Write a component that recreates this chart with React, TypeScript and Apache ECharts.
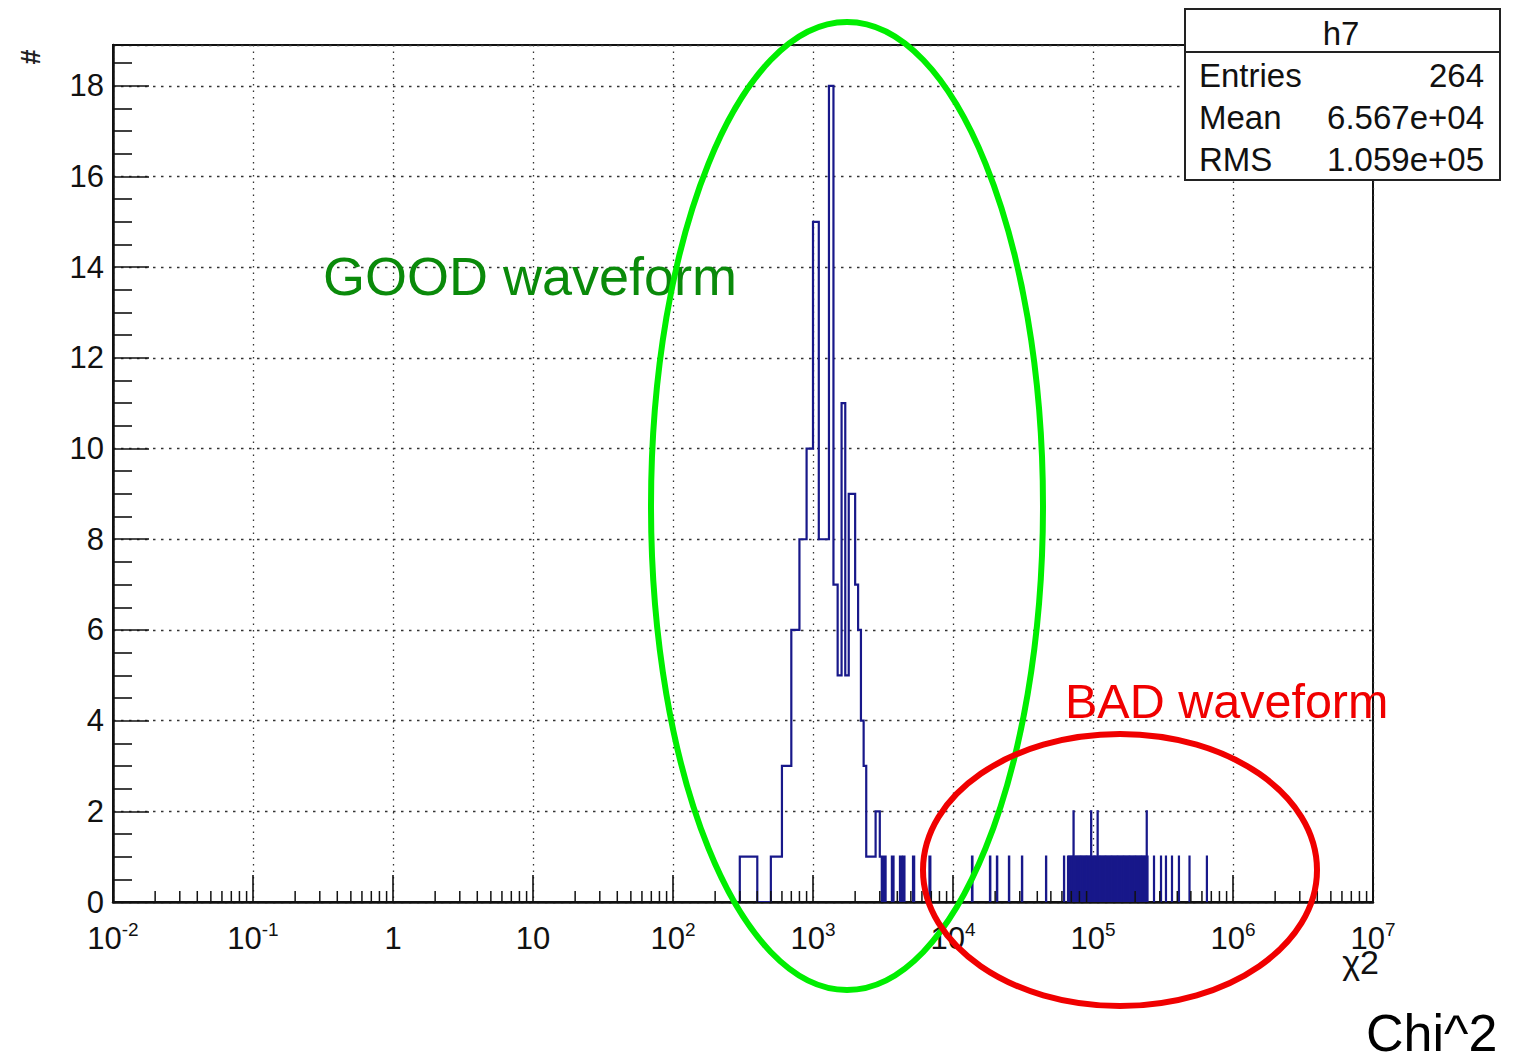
import React, { useEffect, useRef } from "react";
import * as echarts from "echarts";

// ---- axis structure ----
const X_DECADES = [-2, -1, 0, 1, 2, 3, 4, 5, 6];
const MINOR_MULT = [2, 3, 4, 5, 6, 7, 8, 9];
const Y_MAX = 18.9;

// ---- histogram h7 (bin width 100) ----
const BIN_WIDTH = 100;
const GOOD_EDGES = [
  300, 400, 500, 600, 700, 800, 900, 1000, 1100, 1200, 1300, 1400, 1500, 1600, 1700,
  1800, 1900, 2000, 2100, 2200, 2300, 2400, 2500, 2600, 2700, 2800, 2900, 3000, 3100, 3200,
];
const GOOD_COUNTS = [
  1, 0, 1, 3, 6, 8, 10, 15, 8, 8, 18, 7, 5, 11, 5,
  9, 9, 7, 6, 4, 3, 1, 1, 1, 1, 2, 2, 1, 0, 1,
];
const SPIKE_X = [
  3660, 4180, 4400, 5180, 6790, 13670, 18370, 20600, 25100, 31100, 46200, 62100,
  66300, 67700, 69000, 70400, 71800, 72600, 74500, 76000, 77500, 79000, 80600, 82200,
  83800, 85500, 87200, 89000, 90700, 92500, 94400, 96200, 97000, 99500, 101500, 103500,
  105500, 107900, 110000, 112200, 114500, 116800, 119100, 121500, 123900, 126400, 128900,
  131500, 134100, 136800, 139500, 142300, 145100, 148000, 151000, 154000, 157100, 160200,
  163400, 166700, 170000, 173400, 176900, 180400, 184000, 187700, 191500, 195300, 199200,
  203200, 207200, 211400, 215600, 219900, 224300, 228800, 233400, 238000, 242000, 245000,
  272700, 306000, 332000, 366600, 411000, 489000, 651000, 731000,
];
const SPIKE_N = [
  1, 1, 1, 1, 1, 1, 1, 1, 1, 1, 1, 1,
  1, 1, 1, 1, 1, 2, 1, 1, 1, 1, 1, 1,
  1, 1, 1, 1, 1, 1, 1, 1, 2, 1, 1, 1,
  1, 2, 1, 1, 1, 1, 1, 1, 1, 1, 1,
  1, 1, 1, 1, 1, 1, 1, 1, 1, 1, 1,
  1, 1, 1, 1, 1, 1, 1, 1, 1, 1, 1,
  1, 1, 1, 1, 1, 1, 1, 1, 1, 2,
  1, 1, 1, 1, 1, 1, 1, 1,
];

// ---- stats box ----
const STATS_TITLE = "h7";
const STATS_LABELS = ["Entries", "Mean", "RMS"];
const STATS_VALUES = ["264", "6.567e+04", "1.059e+05"];

const FONT = '"Liberation Sans", Arial, Helvetica, sans-serif';

function buildGroups(): number[][][] {
  const groups: number[][][] = [];
  const g: number[][] = [[GOOD_EDGES[0], 0]];
  GOOD_EDGES.forEach((e, i) => {
    g.push([e, GOOD_COUNTS[i]]);
    g.push([e + BIN_WIDTH, GOOD_COUNTS[i]]);
  });
  g.push([GOOD_EDGES[GOOD_EDGES.length - 1] + BIN_WIDTH, 0]);
  groups.push(g);
  SPIKE_X.forEach((x, i) => {
    groups.push([
      [x, 0],
      [x, SPIKE_N[i]],
      [x + BIN_WIDTH, SPIKE_N[i]],
      [x + BIN_WIDTH, 0],
    ]);
  });
  return groups;
}

export default function App() {
  const ref = useRef<HTMLDivElement>(null);
  useEffect(() => {
    if (!ref.current) return;
    const chart = echarts.init(ref.current, undefined, { renderer: "svg" });
    const groups = buildGroups();
    const minorTicks: number[][] = [];
    X_DECADES.forEach((d) => {
      MINOR_MULT.forEach((m) => minorTicks.push([m * Math.pow(10, d), 0]));
    });

    const BOX_Z = 60;
    const option: any = {
      animation: false,
      backgroundColor: "#ffffff",
      grid: {
        left: 113,
        right: 149,
        top: 45,
        bottom: 159,
        show: true,
        borderColor: "#111",
        borderWidth: 2,
        backgroundColor: "transparent",
      },
      xAxis: {
        type: "log",
        logBase: 10,
        min: 0.01,
        max: 1e7,
        splitNumber: 10,
        axisLine: { show: true, lineStyle: { color: "#111", width: 2.5 } },
        axisTick: { show: true, inside: true, length: 27, lineStyle: { color: "#111", width: 1.6 } },
        minorTick: { show: false },
        splitLine: { show: true, lineStyle: { color: "#333", width: 1.3, type: [1.5, 5] } },
        axisLabel: {
          show: true,
          interval: 0,
          margin: 18,
          showMinLabel: true,
          showMaxLabel: true,
          formatter: (v: number) => {
            const e = Math.round(Math.log10(v));
            if (e === 0) return "{b|1}";
            if (e === 1) return "{b|10}";
            return "{b|10}{s|" + e + "}";
          },
          rich: {
            b: { fontSize: 31, fontFamily: FONT, color: "#111", lineHeight: 36 },
            s: { fontSize: 19, fontFamily: FONT, color: "#111", verticalAlign: "top", lineHeight: 22 },
          },
        },
      },
      yAxis: {
        type: "value",
        min: 0,
        max: Y_MAX,
        interval: 2,
        axisLine: { show: true, lineStyle: { color: "#111", width: 2.5 } },
        axisTick: { show: true, inside: true, length: 36, lineStyle: { color: "#111", width: 1.6 } },
        minorTick: { show: true, splitNumber: 4, length: 19, lineStyle: { color: "#111", width: 1.6 } },
        splitLine: { show: true, lineStyle: { color: "#333", width: 1.3, type: [2.5, 5.5] } },
        axisLabel: {
          margin: 9,
          fontSize: 31,
          fontFamily: FONT,
          color: "#111",
          showMaxLabel: false,
          formatter: (v: number) => (Math.abs(v - Math.round(v)) < 1e-6 ? String(Math.round(v)) : ""),
        },
      },
      series: [
        {
          type: "custom",
          name: "h7",
          coordinateSystem: "cartesian2d",
          clip: true,
          z: 3,
          data: groups.map((g, i) => [g[0][0], 0, i]),
          encode: { x: 0, y: 1 },
          renderItem: (params: any, api: any) => {
            const g = groups[params.dataIndex];
            const pts = g.map((p) => api.coord(p));
            return {
              type: "polyline",
              shape: { points: pts },
              style: { stroke: "#18188a", lineWidth: 2.2, fill: "none", lineJoin: "miter" },
            };
          },
        },
        {
          type: "custom",
          name: "minorTicks",
          coordinateSystem: "cartesian2d",
          z: 4,
          silent: true,
          data: minorTicks,
          encode: { x: 0, y: 1 },
          renderItem: (params: any, api: any) => {
            const p = api.coord([api.value(0), 0]);
            return {
              type: "line",
              shape: { x1: p[0], y1: p[1], x2: p[0], y2: p[1] - 11 },
              style: { stroke: "#111", lineWidth: 1.5 },
            };
          },
        },
      ],
      graphic: [
        // y-axis title
        {
          type: "text",
          x: 31,
          y: 57,
          rotation: Math.PI / 2,
          z: 50,
          style: { text: "#", font: 'bold 27px ' + FONT, fill: "#222", align: "center", verticalAlign: "middle" },
        },
        // x-axis title
        {
          type: "text",
          x: 1379,
          y: 962,
          z: 50,
          style: { text: "\u03c72", font: '34px ' + FONT, fill: "#111", align: "right", verticalAlign: "middle" },
        },
        // stats box
        {
          type: "rect",
          z: BOX_Z,
          shape: { x: 1185, y: 9, width: 315, height: 171 },
          style: { fill: "#ffffff", stroke: "#222", lineWidth: 2 },
        },
        {
          type: "line",
          z: BOX_Z + 1,
          shape: { x1: 1185, y1: 52, x2: 1500, y2: 52 },
          style: { stroke: "#222", lineWidth: 2 },
        },
        {
          type: "text",
          z: BOX_Z + 1,
          x: 1341,
          y: 33,
          style: { text: STATS_TITLE, font: '33px ' + FONT, fill: "#111", align: "center", verticalAlign: "middle" },
        },
        ...STATS_LABELS.map((t, i) => ({
          type: "text",
          z: BOX_Z + 1,
          x: 1199,
          y: 75 + i * 42,
          style: { text: t, font: '33px ' + FONT, fill: "#111", align: "left", verticalAlign: "middle" },
        })),
        ...STATS_VALUES.map((t, i) => ({
          type: "text",
          z: BOX_Z + 1,
          x: 1484,
          y: 75 + i * 42,
          style: { text: t, font: '33px ' + FONT, fill: "#111", align: "right", verticalAlign: "middle" },
        })),
        // annotations
        {
          type: "text",
          x: 323,
          y: 276,
          z: 70,
          style: { text: "GOOD waveform", font: '54px ' + FONT, fill: "#0a8a0a", align: "left", verticalAlign: "middle" },
        },
        {
          type: "text",
          x: 1065,
          y: 701,
          z: 70,
          style: { text: "BAD waveform", font: '48.5px ' + FONT, fill: "#f00000", align: "left", verticalAlign: "middle" },
        },
        {
          type: "text",
          x: 1366,
          y: 1033,
          z: 70,
          style: { text: "Chi^2", font: '52px ' + FONT, fill: "#000", align: "left", verticalAlign: "middle" },
        },
        {
          type: "ellipse",
          z: 80,
          shape: { cx: 847, cy: 506, rx: 196, ry: 484 },
          style: { fill: "none", stroke: "#00ee00", lineWidth: 6 },
        },
        {
          type: "ellipse",
          z: 80,
          shape: { cx: 1120, cy: 870, rx: 197, ry: 136 },
          style: { fill: "none", stroke: "#f00000", lineWidth: 6 },
        },
      ],
    };
    chart.setOption(option);
    return () => chart.dispose();
  }, []);
  return (
    <div
      ref={ref}
      style={{ position: "fixed", left: 0, top: 0, width: 1522, height: 1061, background: "#fff" }}
    />
  );
}
